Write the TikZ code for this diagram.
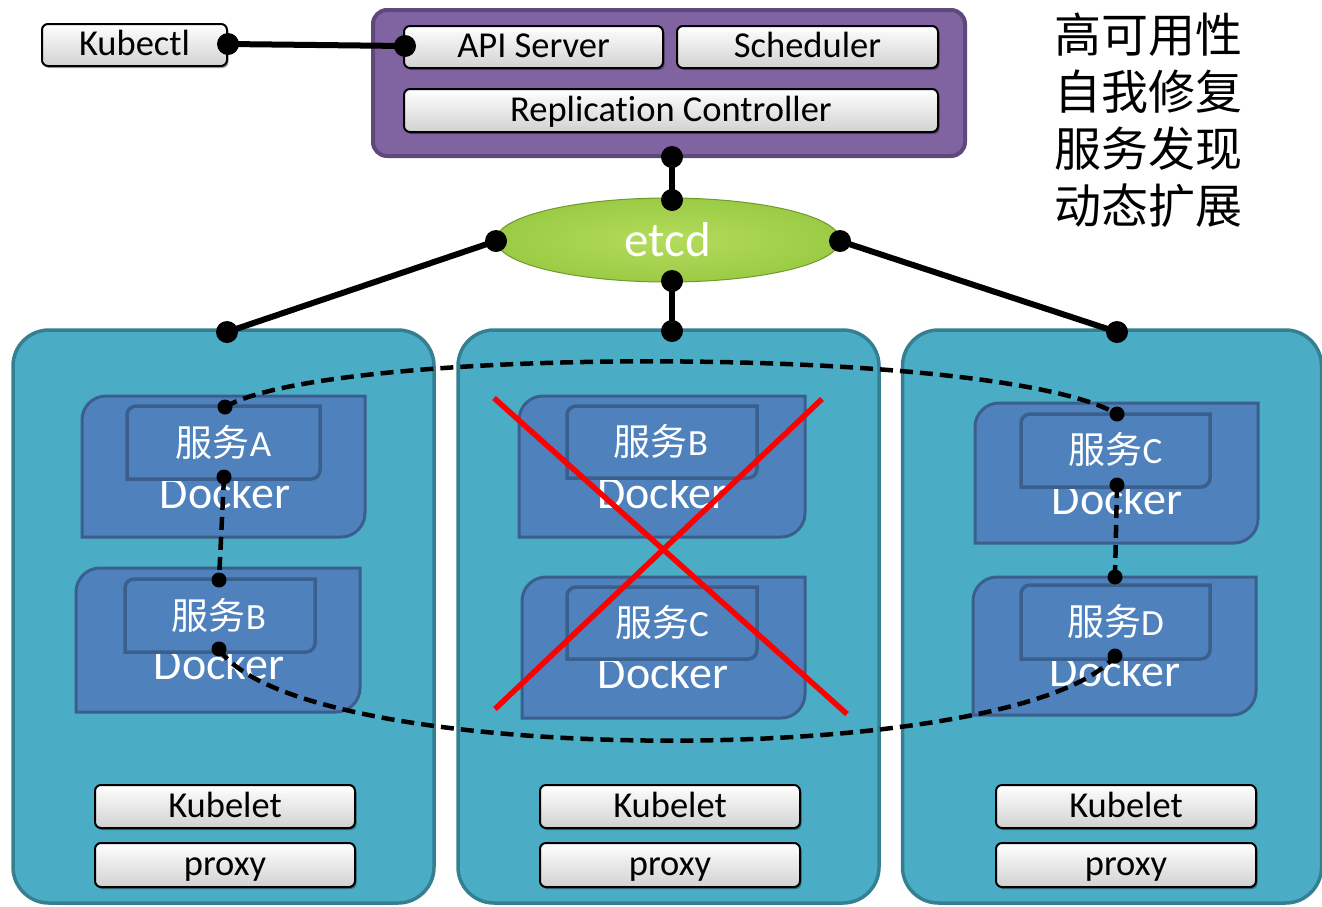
\documentclass[tikz,border=0pt]{standalone}
\usepackage{fontspec}
\setmainfont{Carlito}[Ligatures=CommonOff]
\newfontfamily\cjk{Noto Sans CJK SC}
\usetikzlibrary{shapes.geometric,shadows}
\definecolor{mpurple}{HTML}{8064A2}
\definecolor{mpurpleb}{HTML}{5F497A}
\definecolor{nteal}{HTML}{4BACC6}
\definecolor{ntealb}{HTML}{357F93}
\definecolor{dblue}{HTML}{4F81BD}
\definecolor{dblueb}{HTML}{3A5F8C}
\definecolor{egreen}{HTML}{9BCB45}
\definecolor{egreenl}{HTML}{B4DC5C}
\definecolor{egreend}{HTML}{6F9A2A}
\newcommand\dockshape[6]{% style x1 y1 x2 y2 r
 \filldraw[#1] (#2,{#3+#6}) .. controls (#2,{#3+0.448*#6}) and ({#2+0.448*#6},#3) .. ({#2+#6},#3) -- (#4,#3) -- (#4,{#5-#6}) .. controls (#4,{#5-0.448*#6}) and ({#4-0.448*#6},#5) .. ({#4-#6},#5) -- (#2,#5) -- cycle;}
\begin{document}
\begin{tikzpicture}[x=1pt,y=-1pt,
  graybox/.style={draw=black, line width=2pt, rounded corners=6pt, top color=white, bottom color=black!18,
    inner sep=0pt, font=\fontsize{36.5}{40}\selectfont, text height=27pt, text depth=6pt,
    drop shadow={shadow xshift=1.5pt, shadow yshift=-2pt, opacity=0.35, fill=black}},
  masterbox/.style={draw=mpurpleb, line width=4pt, fill=mpurple, rounded corners=14pt, inner sep=0pt},
  nodebox/.style={draw=ntealb, line width=3.5pt, fill=nteal, rounded corners=36pt, inner sep=0pt},
  dockout/.style={draw=dblueb, line width=3pt, fill=dblue},
  dockin/.style={draw=dblueb, line width=3.5pt, fill=dblue},
  dlabel/.style={text=white, font=\fontsize{46}{50}\selectfont, inner sep=0pt, anchor=base},
  slabel/.style={text=white, font=\fontsize{37}{42}\selectfont, inner sep=0pt},
  conn/.style={line width=6pt, black},
  dconn/.style={line width=4.5pt, black, dash pattern=on 13pt off 7pt},
  bigdot/.style={fill=black},
]
\useasboundingbox (0,0) rectangle (1322,906);

% master
\node[masterbox, minimum width=592pt, minimum height=146pt] (master) at (669,83) {};
\node[graybox, minimum width=185pt, minimum height=42pt] (kubectl) at (134.5,45) {Kubectl};
\node[graybox, minimum width=259pt, minimum height=42pt] (api) at (533.5,47) {API Server};
\node[graybox, minimum width=261pt, minimum height=42pt] (sched) at (807.5,47) {Scheduler};
\node[graybox, minimum width=534pt, minimum height=43pt] (rc) at (671,110.5) {Replication Controller};

% worker nodes
\node[nodebox, minimum width=421pt, minimum height=573pt] (n1) at (223.5,616.5) {};
\node[nodebox, minimum width=421pt, minimum height=573pt] (n2) at (668.5,616.5) {};
\node[nodebox, minimum width=419pt, minimum height=573pt] (n3) at (1112,616.5) {};

% etcd
\node[ellipse, minimum width=344pt, minimum height=84pt, draw=egreend, line width=1pt,
  inner color=egreenl, outer color=egreen, text=white, font=\fontsize{49}{54}\selectfont] (etcd) at (668,240) {etcd};

% docker containers
\dockshape{dockout}{82}{396}{365}{537}{24}
\node[dlabel] (dk1) at (225,508) {Docker};
\dockshape{dockin}{127}{406}{320}{479}{9}
\node[slabel] (sA) at (223.5,442) {{\cjk 服务}A};

\dockshape{dockout}{76}{568}{360}{712}{24}
\node[dlabel] (dk2) at (219,679) {Docker};
\dockshape{dockin}{125}{579}{315}{652}{9}
\node[slabel] (sB1) at (219,615) {{\cjk 服务}B};

\dockshape{dockout}{519}{396}{805}{537}{24}
\node[dlabel] (dk3) at (662.5,508) {Docker};
\dockshape{dockin}{567}{406}{757}{478}{9}
\node[slabel] (sB2) at (661,441) {{\cjk 服务}B};

\dockshape{dockout}{522}{577}{805}{718}{24}
\node[dlabel] (dk4) at (663,688) {Docker};
\dockshape{dockin}{567}{587}{757}{659}{9}
\node[slabel] (sC2) at (662,622) {{\cjk 服务}C};

\dockshape{dockout}{975}{403}{1258}{543}{24}
\node[dlabel] (dk5) at (1117,514) {Docker};
\dockshape{dockin}{1021}{414}{1210}{487}{9}
\node[slabel] (sC3) at (1115.5,449) {{\cjk 服务}C};

\dockshape{dockout}{973}{577}{1256}{715}{24}
\node[dlabel] (dk6) at (1115,686) {Docker};
\dockshape{dockin}{1021}{585}{1210}{659}{9}
\node[slabel] (sD) at (1115.5,621) {{\cjk 服务}D};

% kubelet / proxy
\foreach \cx/\k in {225/1,670/2,1126/3}{
  \node[graybox, minimum width=260pt, minimum height=43pt] (kubelet\k) at (\cx,806.5) {Kubelet};
  \node[graybox, minimum width=260pt, minimum height=44pt] (proxy\k) at (\cx,865) {proxy};
}

% connection points
\coordinate (kd) at (228,44);
\coordinate (ad) at (405,46);
\coordinate (md) at (672,157);
\coordinate (et) at (672,200);
\coordinate (el) at (496,241);
\coordinate (er) at (840,241);
\coordinate (eb) at (672,281);
\coordinate (n1d) at (227,332);
\coordinate (n2d) at (672,331);
\coordinate (n3d) at (1117,332);
\coordinate (At) at (225,407);
\coordinate (Ab) at (224,477);
\coordinate (Bt) at (219,580);
\coordinate (Bb) at (219,649);
\coordinate (Ct) at (1117,414);
\coordinate (Cb) at (1117,485);
\coordinate (Dt) at (1115,577);
\coordinate (Db) at (1115,656);

\draw[conn] (kd) -- (ad);
\draw[conn] (md) -- (et);
\draw[conn] (eb) -- (n2d);
\draw[conn] (el) -- (n1d);
\draw[conn] (er) -- (n3d);
\foreach \p in {kd,ad,md,et,el,er,eb,n1d,n2d,n3d}{\fill[bigdot] (\p) circle (11);}

\draw[dconn] (Ab) -- (Bt);
\draw[dconn] (Cb) -- (Dt);
\draw[dconn] (At) .. controls (330,345) and (1000,345) .. (Ct);
\draw[dconn] (Bb) .. controls (300,770) and (1020,770) .. (Db);
\foreach \p in {At,Ab,Bt,Bb,Ct,Cb,Dt,Db}{\fill[bigdot] (\p) circle (7.5);}

% red cross
\coordinate (x1) at (494,398);
\coordinate (x2) at (847,714);
\coordinate (x3) at (822,399);
\coordinate (x4) at (495,709);
\draw[red, line width=5.5pt] (x1) -- (x2);
\draw[red, line width=5.5pt] (x3) -- (x4);

% features text
\node[anchor=north west, align=left, inner sep=0pt, font=\cjk\fontsize{47}{57}\selectfont] (feat) at (1054,13)
  {高可用性\\自我修复\\服务发现\\动态扩展};
\end{tikzpicture}
\end{document}
